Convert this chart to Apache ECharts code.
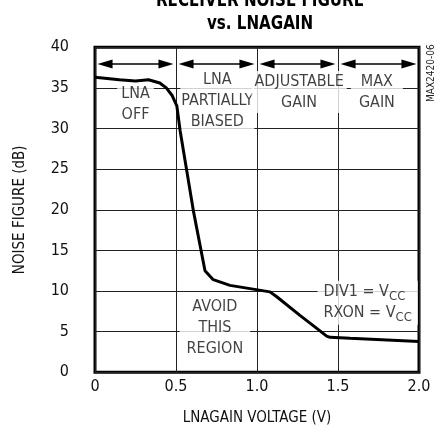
<!DOCTYPE html>
<html><head><meta charset="utf-8">
<script src="https://cdn.jsdelivr.net/npm/echarts@6/dist/echarts.min.js"></script>
<style>html,body{margin:0;padding:0;background:#fff}#c{width:444px;height:431px}</style>
</head><body><div id="c"></div>
<script>
// ---- data ----
const voltage     = [0, 0.15, 0.25, 0.33, 0.40, 0.44, 0.475, 0.505, 0.525, 0.607, 0.679, 0.730, 0.833, 0.957, 1.080, 1.122, 1.265, 1.369, 1.430, 1.451, 1.574, 2.0];
const noiseFigure = [36.3, 36.0, 35.85, 36.0, 35.6, 35.0, 34.1, 32.8, 29.8, 19.9, 12.5, 11.4, 10.7, 10.3, 9.9, 9.3, 7.0, 5.4, 4.45, 4.3, 4.18, 3.8];
const xTickLabels = ['0', '0.5', '1.0', '1.5', '2.0'];
const yTickLabels = ['0', '5', '10', '15', '20', '25', '30', '35', '40'];
const regionBounds = [0, 0.5, 1.0, 1.5, 2.0];
const arrowLevel = 37.95;
const titleLines = ['RECEIVER NOISE FIGURE', 'vs. LNAGAIN'];
const annotationText = ['LNA\nOFF', 'LNA\nPARTIALLY\nBIASED', 'ADJUSTABLE\nGAIN', 'MAX\nGAIN', 'AVOID\nTHIS\nREGION', 'DIV1 = V{s|CC}\nRXON = V{s|CC}'];
const annotationX = [0.25, 0.755, 1.26, 1.74, 0.74, 1.374];
const annotationY = [33.0, 33.4, 34.5, 34.5, 5.45, 8.55];

// ---- chart ----
const FONT = "'Liberation Sans Narrow', 'DejaVu Sans Condensed', sans-serif";
const chart = echarts.init(document.getElementById('c'), null, {renderer: 'canvas'});

const arrowInset = 0.062;
const arrowLines = [];
for (let i = 0; i < regionBounds.length - 1; i++) {
  arrowLines.push([
    {coord: [regionBounds[i] + arrowInset, arrowLevel]},
    {coord: [regionBounds[i + 1] - arrowInset, arrowLevel]}
  ]);
}

const annPads = [[2,4], [0,1], [0,3], [0,8], [0,7], [1,6]];
const annotations = annotationText.map((t, i) => ({
  value: [annotationX[i], annotationY[i]],
  label: {
    formatter: t,
    padding: annPads[i],
    align: i === 5 ? 'left' : 'center'
  }
}));

chart.setOption({
  animation: false,
  backgroundColor: '#fff',
  grid: {left: 95, right: 25, top: 47.3, bottom: 58.7, show: true, borderWidth: 3, borderColor: '#000', backgroundColor: 'transparent'},
  xAxis: {
    type: 'value', min: 0, max: 2, interval: 0.5,
    name: 'LNAGAIN VOLTAGE (V)', nameLocation: 'middle', nameGap: 38,
    nameTextStyle: {fontFamily: FONT, fontSize: 15, color: '#111', verticalAlign: 'top'},
    axisLine: {show: false}, axisTick: {show: false},
    axisLabel: {margin: 7, fontFamily: FONT, fontSize: 16, color: '#111',
      formatter: (v) => xTickLabels[Math.round(v / 0.5)]},
    splitLine: {show: true, lineStyle: {color: '#222', width: 1}}
  },
  yAxis: {
    type: 'value', min: 0, max: 40, interval: 5,
    name: 'NOISE FIGURE (dB)', nameLocation: 'middle', nameGap: 67,
    nameTextStyle: {fontFamily: FONT, fontSize: 15, color: '#111'},
    axisLine: {show: false}, axisTick: {show: false},
    axisLabel: {margin: 26, fontFamily: FONT, fontSize: 16, color: '#111',
      formatter: (v) => yTickLabels[Math.round(v / 5)]},
    splitLine: {show: true, lineStyle: {color: '#222', width: 1}}
  },
  graphic: [
    {
      type: 'text', x: 260, y: -11, scaleX: 0.84, scaleY: 1,
      style: {text: titleLines.join('\n'), fontFamily: FONT, fontWeight: 'bold', fontSize: 20, lineHeight: 23,
        fill: '#000', align: 'center', verticalAlign: 'top'}
    },
    {
      type: 'text', x: 431, y: 102, rotation: Math.PI / 2,
      style: {text: 'MAX2420-06', fontFamily: FONT, fontSize: 10, fill: '#222', align: 'left', verticalAlign: 'middle'}
    }
  ],
  series: [
    {
      type: 'line',
      data: voltage.map((v, i) => [v, noiseFigure[i]]),
      showSymbol: false, symbol: 'none',
      lineStyle: {color: '#000', width: 3},
      z: 6,
      markLine: {
        silent: true,
        symbol: ['path://M4.5,0 L9,15 L0,15 Z', 'path://M4.5,0 L9,15 L0,15 Z'],
        symbolSize: 15,
        symbolKeepAspect: true,
        label: {show: false},
        lineStyle: {color: '#000', width: 1.5, type: 'solid'},
        itemStyle: {color: '#000'},
        data: arrowLines
      }
    },
    {
      type: 'scatter',
      symbolSize: 0,
      z: 4,
      data: annotations,
      label: {
        show: true, position: 'inside',
        fontFamily: FONT, fontSize: 16, lineHeight: 21, color: '#111',
        backgroundColor: '#fff',
        rich: {s: {fontFamily: FONT, fontSize: 13, lineHeight: 14, verticalAlign: 'bottom', color: '#111'}}
      }
    }
  ]
});
</script></body></html>
